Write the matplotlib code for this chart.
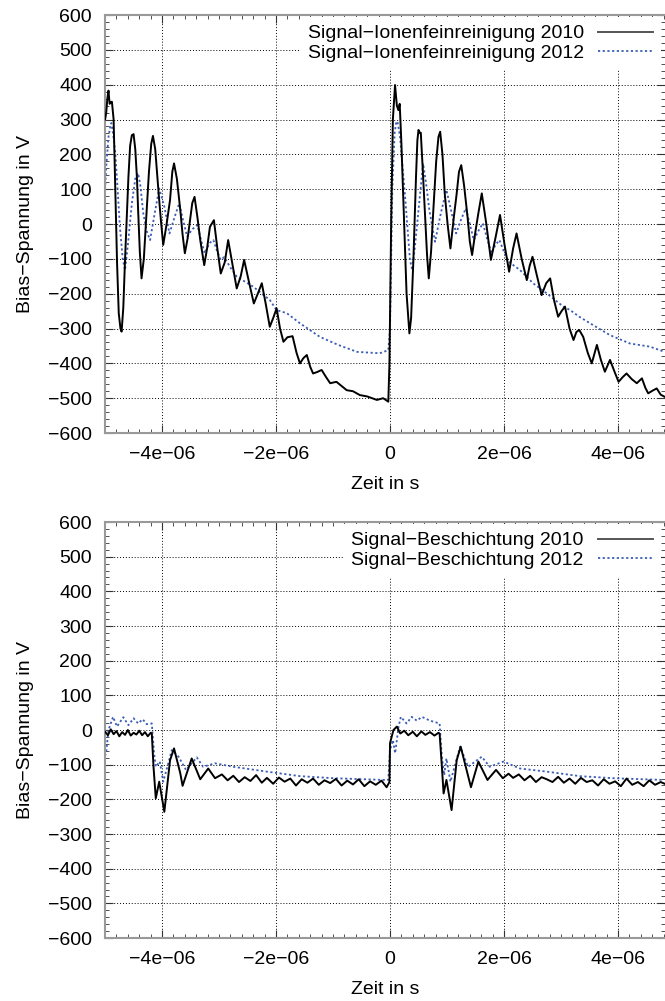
import matplotlib.pyplot as plt
import numpy as np
from matplotlib.ticker import MultipleLocator, FuncFormatter

plt.rcParams['font.family'] = ['Liberation Sans', 'DejaVu Sans']
plt.rcParams['font.size'] = 14

# time in microseconds, voltage in V
t_ion_2010 = [-5.00, -4.98, -4.96, -4.94, -4.92, -4.90, -4.88, -4.85, -4.82, -4.79, -4.76, -4.73, -4.71,
              -4.68, -4.65, -4.62, -4.59, -4.56, -4.53, -4.50, -4.47, -4.44, -4.42, -4.39, -4.36, -4.32,
              -4.27, -4.23, -4.19, -4.16, -4.12, -4.09, -4.06, -4.02, -3.98, -3.92, -3.86, -3.82, -3.79,
              -3.74, -3.68, -3.64, -3.60, -3.55, -3.51, -3.47, -3.43, -3.38, -3.33, -3.26, -3.21, -3.16,
              -3.09, -3.03, -2.97, -2.90, -2.84, -2.76, -2.69, -2.62, -2.56, -2.47, -2.39, -2.32, -2.25,
              -2.18, -2.11, -2.05, -1.99, -1.93, -1.87, -1.80, -1.71, -1.64, -1.58, -1.52, -1.46, -1.40,
              -1.35, -1.28, -1.20, -1.12, -1.05, -0.94, -0.85, -0.76, -0.65, -0.53, -0.40, -0.23, -0.12,
              -0.03, -0.01, 0.02, 0.05, 0.088, 0.12, 0.146, 0.17, 0.20, 0.23, 0.26, 0.29, 0.34, 0.37,
              0.41, 0.456, 0.48, 0.50, 0.52, 0.54, 0.57, 0.61, 0.65, 0.68, 0.72, 0.76, 0.81, 0.85, 0.88,
              0.92, 0.96, 1.01, 1.06, 1.12, 1.17, 1.21, 1.25, 1.30, 1.36, 1.40, 1.44, 1.50, 1.55, 1.61,
              1.69, 1.77, 1.85, 1.93, 2.01, 2.09, 2.16, 2.22, 2.31, 2.40, 2.45, 2.50, 2.58, 2.66, 2.74,
              2.81, 2.88, 2.95, 3.01, 3.07, 3.15, 3.22, 3.27, 3.32, 3.39, 3.47, 3.54, 3.63, 3.70, 3.77,
              3.86, 3.93, 4.01, 4.08, 4.15, 4.24, 4.33, 4.42, 4.48, 4.53, 4.61, 4.68, 4.75, 4.82]
v_ion_2010 = [300, 319, 360, 383, 345, 350, 351, 300, 89, -110, -256, -300, -309,
              -240, -103, 20, 136, 225, 255, 258, 215, 130, 40, -80, -156, -100,
              40, 150, 230, 253, 215, 150, 88, 10, -60, 0, 69, 150, 174,
              130, 40, -30, -84, -40, 11, 60, 78, 20, -46, -118, -70, -8,
              11, -70, -142, -110, -46, -120, -185, -150, -103, -170, -228, -200, -170,
              -230, -295, -270, -242, -300, -338, -325, -322, -370, -400, -385, -376, -410,
              -429, -425, -419, -440, -457, -453, -465, -477, -480, -491, -495, -505, -500,
              -510, -400, 0, 300, 399, 340, 327, 345, 230, 88, -60, -199, -314, -270,
              -103, 136, 240, 270, 262, 262, 170, 40, -90, -156, -80, 40, 180, 250, 265,
              200, 88, 0, -70, 20, 88, 150, 169, 110, 21, -50, -89, -20, 31, 88,
              0, -103, -40, 26, -60, -137, -70, -27, -100, -161, -120, -94, -150, -204, -170,
              -156, -220, -266, -250, -237, -300, -333, -310, -304, -324, -370, -400, -347, -390, -424,
              -390, -420, -453, -440, -429, -445, -457, -443, -470, -486, -478, -472, -490, -496]

t_ion_2012 = [-5.00, -4.98, -4.94, -4.91, -4.89, -4.86, -4.82, -4.78, -4.74, -4.69, -4.65, -4.60, -4.53,
              -4.47, -4.42, -4.38, -4.33, -4.27, -4.21, -4.13, -4.05, -3.96, -3.87, -3.78, -3.70, -3.63,
              -3.56, -3.47, -3.38, -3.31, -3.25, -3.17, -3.10, -3.03, -2.97, -2.91, -2.80, -2.69, -2.55,
              -2.40, -2.25, -2.11, -1.99, -1.81, -1.58, -1.40, -1.23, -0.91, -0.58, -0.18, -0.03, 0.00,
              0.04, 0.08, 0.105, 0.13, 0.175, 0.26, 0.35, 0.39, 0.44, 0.50, 0.58, 0.63, 0.69, 0.79, 0.89,
              0.99, 1.07, 1.16, 1.24, 1.33, 1.40, 1.47, 1.55, 1.63, 1.70, 1.78, 1.85, 1.92, 2.00, 2.08,
              2.28, 2.51, 2.75, 3.04, 3.16, 3.32, 3.51, 3.86, 4.21, 4.56, 4.82]
v_ion_2012 = [100, 164, 250, 279, 290, 260, 203, 100, -8, -100, -132, -60, 59,
              130, 146, 110, 31, -20, -46, 30, 102, 50, -27, 20, 59, 10,
              -36, -15, -3, -50, -84, -55, -46, -80, -103, -95, -125, -151, -165,
              -180, -200, -218, -247, -256, -285, -305, -324, -347, -367, -371, -362, -300,
              100, 260, 289, 295, 251, 88, -103, -132, -60, 40, 174, 120, 40, -51, 30,
              98, 40, -27, 10, 45, 0, -46, -20, 2, -40, -84, -60, -46, -80, -108,
              -132, -170, -199, -237, -247, -266, -285, -319, -343, -352, -367]

t_bes_2010 = [-5.00, -4.95, -4.90, -4.85, -4.80, -4.75, -4.70, -4.65, -4.60, -4.55, -4.50, -4.45, -4.40,
              -4.35, -4.30, -4.25, -4.20, -4.18, -4.15, -4.11, -4.05, -3.96, -3.86, -3.79, -3.68, -3.64,
              -3.48, -3.33, -3.19, -3.07, -2.95, -2.85, -2.75, -2.65, -2.55, -2.45, -2.35, -2.25, -2.16,
              -2.05, -1.95, -1.85, -1.75, -1.65, -1.55, -1.45, -1.35, -1.25, -1.15, -1.05, -0.95, -0.85,
              -0.75, -0.65, -0.55, -0.45, -0.35, -0.25, -0.15, -0.06, -0.01, 0.00, 0.06, 0.12, 0.18,
              0.25, 0.32, 0.40, 0.47, 0.55, 0.62, 0.70, 0.78, 0.85, 0.87, 0.91, 0.94, 0.99, 1.08, 1.17,
              1.24, 1.42, 1.55, 1.71, 1.86, 1.98, 2.08, 2.16, 2.26, 2.36, 2.46, 2.56, 2.66, 2.75, 2.85,
              2.95, 3.05, 3.15, 3.25, 3.35, 3.45, 3.55, 3.65, 3.75, 3.85, 3.95, 4.05, 4.15, 4.25, 4.35,
              4.45, 4.55, 4.65, 4.75, 4.82]
v_bes_2010 = [-5, -15, 2, -12, -3, -18, -6, -14, 0, -16, -8, -13, -2,
              -15, -6, -18, -8, -10, -106, -197, -149, -236, -87, -53, -125, -161,
              -82, -142, -111, -139, -128, -145, -132, -150, -136, -147, -130, -152, -138,
              -155, -137, -149, -140, -160, -142, -152, -140, -158, -145, -153, -141, -160,
              -146, -157, -142, -162, -148, -158, -146, -165, -150, -38, 0, 10, -10,
              -2, -15, -5, -18, -4, -14, -6, -16, -8, -10, -106, -183, -144, -231, -87,
              -48, -165, -91, -144, -115, -139, -126, -138, -128, -145, -132, -150, -136, -142, -150,
              -135, -152, -140, -155, -138, -150, -145, -160, -142, -155, -148, -162, -140, -158, -150,
              -162, -145, -158, -150, -155]

t_bes_2012 = [-5.00, -4.98, -4.94, -4.86, -4.79, -4.68, -4.59, -4.50, -4.42, -4.34, -4.27, -4.18, -4.14,
              -4.11, -4.04, -3.98, -3.89, -3.83, -3.71, -3.58, -3.39, -3.28, -3.07, -2.75, -2.16, -1.58,
              -0.99, -0.09, -0.03, 0.00, 0.05, 0.09, 0.15, 0.19, 0.29, 0.38, 0.47, 0.56, 0.70, 0.87, 0.91,
              0.95, 0.99, 1.06, 1.23, 1.37, 1.61, 1.75, 1.99, 2.28, 2.75, 3.33, 3.92, 4.80]
v_bes_2012 = [-75, -63, 0, 38, 10, 37, 14, 34, 19, 31, 17, 19, -67,
              -106, -91, -149, -96, -58, -77, -115, -79, -106, -96, -106, -120, -133,
              -139, -144, -144, -58, -29, -67, 10, 38, 19, 38, 27, 38, 27, 19, -77,
              -130, -82, -149, -48, -106, -77, -106, -91, -111, -120, -133, -139, -144]

black = '#000000'
blue = '#3a5db4'


def us_to_s(t):
    return np.array(t) * 1e-6


def fmt_x(v, pos):
    if abs(v) < 1e-12:
        return '0'
    return ('%.0e' % v).replace('-', '\u2212')


fig = plt.figure(figsize=(6.65, 10.01), dpi=100)
ax1 = fig.add_axes([0.158, 0.5674, 0.842, 0.4176])
ax2 = fig.add_axes([0.158, 0.0629, 0.842, 0.4156])

panels = [
    (ax1, t_ion_2010, v_ion_2010, t_ion_2012, v_ion_2012,
     'Signal\u2212Ionenfeinreinigung 2010', 'Signal\u2212Ionenfeinreinigung 2012'),
    (ax2, t_bes_2010, v_bes_2010, t_bes_2012, v_bes_2012,
     'Signal\u2212Beschichtung 2010', 'Signal\u2212Beschichtung 2012'),
]

for ax, ta, va, tb, vb, la, lb in panels:
    ax.plot(us_to_s(ta), va, color=black, lw=1.4, label=la, zorder=3)
    ax.plot(us_to_s(tb), vb, color=blue, lw=1.3, dashes=(1.2, 1.4), label=lb, zorder=2)
    ax.set_xlim(-5e-6, 4.825e-6)
    ax.set_ylim(-600, 600)
    ax.xaxis.set_major_locator(MultipleLocator(2e-6))
    ax.xaxis.set_minor_locator(MultipleLocator(2e-7))
    ax.yaxis.set_major_locator(MultipleLocator(100))
    ax.yaxis.set_minor_locator(MultipleLocator(20))
    ax.xaxis.set_major_formatter(FuncFormatter(fmt_x))
    ax.grid(True, which='major', color='black', lw=0.7, linestyle=(0, (1, 2)))
    ax.tick_params(which='both', direction='in', top=True, right=True, color='#333333')
    ax.tick_params(which='major', length=6, width=0.8, pad=9.5, labelsize=14)
    ax.tick_params(which='minor', length=3, width=0.6)
    for s in ['left', 'bottom', 'top']:
        ax.spines[s].set_color('#999999')
        ax.spines[s].set_linewidth(1.5)
    ax.spines['right'].set_visible(False)
    ax.set_xlabel('Zeit in s', fontsize=14, labelpad=9)
    ax.set_ylabel('Bias\u2212Spannung in V', fontsize=14, labelpad=10)
    leg = ax.legend(loc='upper right', bbox_to_anchor=(1 - 2 / 560, 1.0), markerfirst=False,
                    frameon=True, fancybox=False, framealpha=1, edgecolor='none',
                    facecolor='white', handlelength=2.85, handletextpad=0.72,
                    labelspacing=0.12, borderaxespad=0.1, borderpad=0.4, fontsize=14)
    leg.legend_handles[0].set_color('#555555')
    leg.set_zorder(5)

fig.savefig('out.png', dpi=100)
